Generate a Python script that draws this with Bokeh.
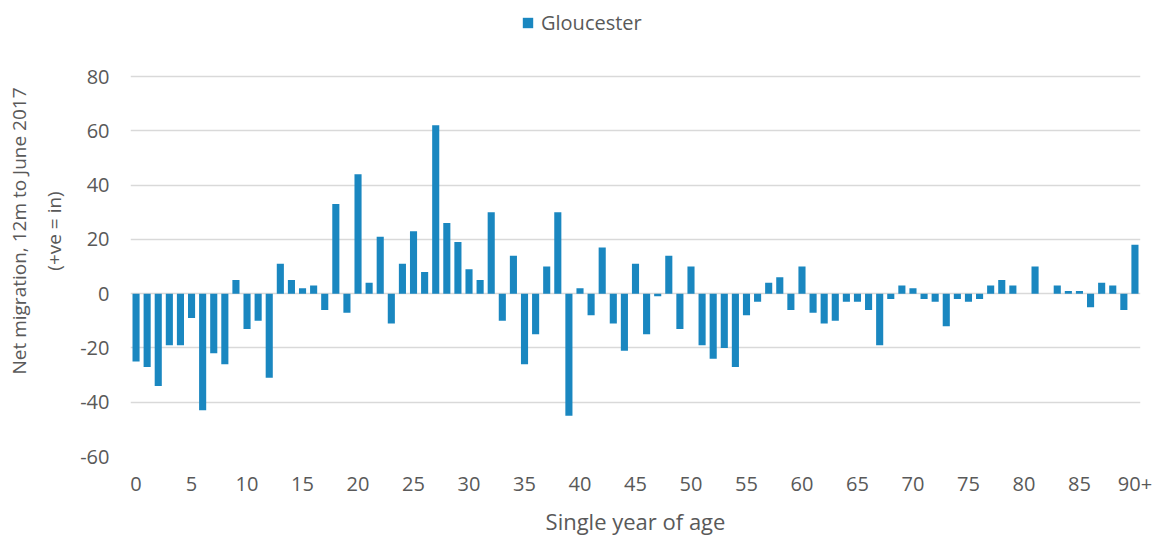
from bokeh.plotting import figure
from bokeh.models import Range1d, FixedTicker, Legend, LegendItem, ColumnDataSource
from bokeh.embed import file_html
from bokeh.resources import INLINE

ages = list(range(0, 91))
net_migration = [
    -25, -27, -34, -19, -19, -9, -43, -22, -26, 5,
    -13, -10, -31, 11, 5, 2, 3, -6, 33, -7,
    44, 4, 21, -11, 11, 23, 8, 62, 26, 19,
    9, 5, 30, -10, 14, -26, -15, 10, 30, -45,
    2, -8, 17, -11, -21, 11, -15, -1, 14, -13,
    10, -19, -24, -20, -27, -8, -3, 4, 6, -6,
    10, -7, -11, -10, -3, -3, -6, -19, -2, 3,
    2, -2, -3, -12, -2, -3, -2, 3, 5, 3,
    0, 10, 0, 3, 1, 1, -5, 4, 3, -6,
    18,
]
x_ticks = list(range(0, 91, 5))
x_tick_labels = {90: "90+"}
y_ticks = [-60, -40, -20, 0, 20, 40, 60, 80]
y_tick_labels = {t: str(t) for t in y_ticks}
series_name = "Gloucester"

FONT = "Open Sans"
TXT = "#595959"
BAR = "#1a87c0"
GRID = "#d9d9d9"

# frame spans from page y=5 to y=456; -60..80 occupies 456..76 (room above for the legend)
TOP, BOTTOM = 5, 84
H = 540
frame_h = H - TOP - BOTTOM
px_per_unit = 380 / 140
y_end = -60 + frame_h / px_per_unit

src = ColumnDataSource(dict(age=ages, val=net_migration))

p = figure(width=1162, height=H, output_backend="svg", toolbar_location=None,
           x_range=Range1d(-0.5, 90.5), y_range=Range1d(-60, y_end))
p.min_border_left = 130
p.min_border_right = 22
p.min_border_top = TOP
p.min_border_bottom = BOTTOM
p.outline_line_color = None

r = p.vbar(x="age", top="val", bottom=0, width=0.64, source=src,
           fill_color=BAR, line_color=None)

p.xgrid.grid_line_color = None
p.ygrid.grid_line_color = GRID
p.ygrid.grid_line_width = 1.3
p.ygrid.ticker = FixedTicker(ticks=y_ticks)
p.ygrid.level = "underlay"

p.xaxis.ticker = FixedTicker(ticks=x_ticks)
p.xaxis.major_label_overrides = x_tick_labels
p.yaxis.ticker = FixedTicker(ticks=y_ticks)
p.yaxis.major_label_overrides = y_tick_labels

for ax in (p.xaxis[0], p.yaxis[0]):
    ax.axis_line_color = None
    ax.major_tick_line_color = None
    ax.minor_tick_line_color = None
    ax.major_tick_out = 0
    ax.major_tick_in = 0
    ax.major_label_text_font = FONT
    ax.major_label_text_font_size = "20px"
    ax.major_label_text_color = TXT
    ax.axis_label_text_font = FONT
    ax.axis_label_text_color = TXT
    ax.axis_label_text_font_style = "normal"

p.xaxis.axis_label = "Single year of age"
p.xaxis.axis_label_text_font_size = "22px"
p.xaxis.axis_label_text_line_height = 0.8
p.xaxis.major_label_standoff = 20
p.xaxis.axis_label_standoff = 12
p.yaxis.axis_label = "Net migration, 12m to June 2017\n(+ve = in)"
p.yaxis.axis_label_text_font_size = "19px"
p.yaxis.axis_label_text_line_height = 1.35
p.yaxis.major_label_standoff = 21
p.yaxis.axis_label_standoff = 10

legend = Legend(items=[LegendItem(label=series_name, renderers=[r])],
                location=(391, 420), orientation="horizontal")
legend.padding = 0
legend.margin = 0
legend.glyph_width = 13
legend.glyph_height = 13
legend.label_standoff = 7
legend.label_text_font = FONT
legend.label_text_font_size = "20px"
legend.label_text_color = TXT
legend.background_fill_alpha = 0
legend.border_line_color = None
p.add_layout(legend, "center")

open("out.html", "w").write(file_html(p, INLINE))
